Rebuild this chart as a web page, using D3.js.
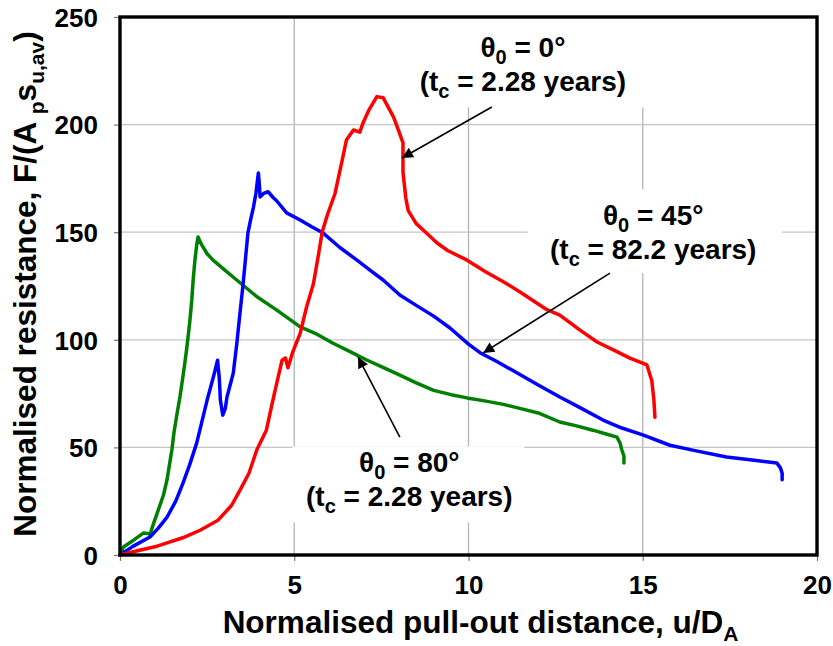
<!DOCTYPE html>
<html>
<head>
<meta charset="utf-8">
<script src="https://cdn.jsdelivr.net/npm/d3@7"></script>
<style>
  html, body { margin: 0; padding: 0; background: #fff; }
  svg text { font-family: "Liberation Sans", Arial, Helvetica, sans-serif; font-weight: bold; fill: #000; }
</style>
</head>
<body>
<svg id="chart" width="833" height="646"></svg>
<script>
// Pull-out resistance curves: [u/D_A, F/(A_p s_u,av)]
const curveTheta0 = [
  [0,0],[0.5,2],[1,3.8],[1.35,5.6],[1.8,8],[2.3,11.5],[2.8,16],[3.2,23],[3.44,30],[3.7,38],
  [3.93,49],[4.2,58],[4.36,70],[4.5,80],[4.65,90.5],[4.75,91.5],[4.82,87],[4.95,94],[5.17,103],
  [5.35,115],[5.55,126],[5.7,140],[5.8,150],[5.95,158],[6.17,168],[6.37,183],[6.5,193],[6.7,197.5],
  [6.88,196.5],[6.98,201],[7.15,207],[7.37,213],[7.55,212.5],[7.7,208],[7.85,203.5],[8.0,197],
  [8.12,191.5],[8.12,178],[8.2,166],[8.27,160],[8.5,154],[8.8,149.5],[9.1,145],[9.4,141.5],
  [9.96,137],[10.5,131.5],[11,127],[11.5,122],[12.25,114],[12.62,111.5],[13.2,104.5],[13.69,99],
  [14.2,95],[14.63,91.5],[15.12,88.3],[15.26,81],[15.32,72],[15.35,64]
];
const curveTheta45 = [
  [0,0],[0.37,4],[0.86,8.4],[1.1,12.5],[1.35,17.6],[1.6,25],[1.81,33.5],[2.0,42],[2.2,52],
  [2.35,62],[2.5,72],[2.6,78],[2.7,84],[2.8,90.5],[2.85,82],[2.88,72],[2.95,65],[3.02,68],
  [3.07,73.4],[3.25,84.5],[3.35,98],[3.44,112],[3.52,124],[3.58,134],[3.67,149.6],[3.75,156],
  [3.83,161.7],[3.9,168],[3.97,177.5],[4.0,172],[4.02,166.4],[4.12,168],[4.25,168.8],[4.4,166],
  [4.5,164.5],[4.78,159],[5.17,155.7],[5.5,152.5],[5.83,149.6],[6.3,143],[6.8,137],[7.2,132],
  [7.55,127.8],[8.03,120.8],[8.5,116],[9.0,111],[9.47,105.5],[10.0,98],[10.33,94],[10.8,90],
  [11.3,85.5],[12.0,79],[12.62,73.4],[13.2,68.5],[13.86,62.7],[14.4,59],[15,55.8],[15.78,51],
  [16.5,48.5],[17.4,45.5],[18.2,44],[18.85,42.7],[18.95,40.5],[19.0,38],[19.0,35]
];
const curveTheta80 = [
  [0,0],[0.1,3.7],[0.4,7],[0.67,10.2],[0.8,10],[0.86,9.5],[0.95,14],[1.1,21],[1.25,28],
  [1.35,35],[1.42,42],[1.49,49],[1.55,57],[1.64,66],[1.72,73.4],[1.78,80],[1.85,88],[1.92,96.7],
  [2.0,108],[2.06,118.5],[2.1,128],[2.15,137],[2.2,144],[2.24,147.8],[2.3,145.5],[2.35,144],
  [2.5,140],[2.67,137],[3.0,132.5],[3.35,127.8],[3.93,120],[4.5,113.8],[5.17,106],[5.6,103],
  [6.1,98.5],[6.6,94.5],[7.08,90.6],[7.5,87.5],[8.03,83.6],[8.5,80],[9.0,76.5],[9.5,74.5],
  [9.96,73],[10.5,71.5],[11,70],[11.5,68],[12,66],[12.62,61.8],[13.1,60],[13.57,58],[14.0,56],
  [14.26,54.8],[14.35,52],[14.4,48.8],[14.46,46],[14.46,42.7]
];

const xTicks = [0, 5, 10, 15, 20];
const yTicks = [0, 50, 100, 150, 200, 250];

// Annotation text: angle, consolidation time, label centre and arrow (data units)
const labelAngles = ["0°", "45°", "80°"];
const labelTimes = ["2.28", "82.2", "2.28"];
const labelCentres = [[11.56, 223.5], [15.3, 145.4], [8.3, 30.7]];
const arrowFrom = [[10.67, 208.2], [14.06, 131], [8.03, 54.8]];
const arrowTo = [[8.09, 184.5], [10.42, 93.9], [6.83, 92]];
const labelBoxes = [[8.5, 16.5, 208, 250], [11.7, 19.0, 131, 170], [4.95, 11.6, 15, 50.4]];

const svg = d3.select("#chart");
const margin = { left: 120, right: 16, top: 17, bottom: 91 };
const W = 833, H = 646;

const x = d3.scaleLinear().domain([0, 20]).range([margin.left, W - margin.right]);
const y = d3.scaleLinear().domain([0, 250]).range([H - margin.bottom, margin.top]);

// Gridlines
const grid = svg.append("g");
grid.selectAll("line.v").data(xTicks.slice(1, -1)).join("line")
  .attr("x1", d => x(d)).attr("x2", d => x(d))
  .attr("y1", y(0)).attr("y2", y(250))
  .attr("stroke", "#b4b4b4").attr("stroke-width", 1.3);
grid.selectAll("line.h").data(yTicks.slice(1, -1)).join("line")
  .attr("x1", x(0)).attr("x2", x(20))
  .attr("y1", d => y(d)).attr("y2", d => y(d))
  .attr("stroke", "#c4c4c4").attr("stroke-width", 1.3);

// White backing behind the annotation blocks
svg.append("g").selectAll("rect").data(labelBoxes).join("rect")
  .attr("x", d => x(d[0])).attr("width", d => x(d[1]) - x(d[0]))
  .attr("y", d => y(d[3])).attr("height", d => y(d[2]) - y(d[3]))
  .attr("fill", "#fff");

// Axes (outer ticks only, labels drawn by the axis generator)
const xAxis = svg.append("g").attr("transform", `translate(0,${y(0)})`)
  .call(d3.axisBottom(x).tickValues(xTicks).tickSize(6).tickPadding(8).tickFormat(d3.format("d")));
const yAxis = svg.append("g").attr("transform", `translate(${x(0)},0)`)
  .call(d3.axisLeft(y).tickValues(yTicks).tickSize(6).tickPadding(16).tickFormat(d3.format("d")));
[xAxis, yAxis].forEach(a => {
  a.select(".domain").remove();
  a.selectAll(".tick line").attr("stroke", "#777").attr("stroke-width", 1.2);
  a.selectAll(".tick text").attr("font-size", 26).attr("font-family", null).style("font-weight", "bold");
});
xAxis.selectAll(".tick text").attr("dy", "0.95em");
yAxis.selectAll(".tick text").attr("dy", "0.36em");

// Curves
const line = d3.line().x(d => x(d[0])).y(d => y(d[1]));
const curves = [
  { data: curveTheta80, color: "#008000" },
  { data: curveTheta45, color: "#0000ff" },
  { data: curveTheta0, color: "#ff0000" }
];
svg.append("g").selectAll("path").data(curves).join("path")
  .attr("d", d => line(d.data))
  .attr("fill", "none").attr("stroke", d => d.color)
  .attr("stroke-width", 3.5).attr("stroke-linejoin", "round").attr("stroke-linecap", "round");

// Plot frame
svg.append("rect")
  .attr("x", x(0)).attr("y", y(250))
  .attr("width", x(20) - x(0)).attr("height", y(0) - y(250))
  .attr("fill", "none").attr("stroke", "#000").attr("stroke-width", 3.4);

// Arrows
svg.append("defs").append("marker")
  .attr("id", "head").attr("viewBox", "0 0 10 10").attr("refX", 10).attr("refY", 5)
  .attr("markerWidth", 13).attr("markerHeight", 11).attr("markerUnits", "userSpaceOnUse")
  .attr("orient", "auto")
  .append("path").attr("d", "M0,0 L10,5 L0,10 Z").attr("fill", "#000");
svg.append("g").selectAll("line").data(arrowFrom).join("line")
  .attr("x1", d => x(d[0])).attr("y1", d => y(d[1]))
  .attr("x2", (d, i) => x(arrowTo[i][0])).attr("y2", (d, i) => y(arrowTo[i][1]))
  .attr("stroke", "#000").attr("stroke-width", 1.6).attr("marker-end", "url(#head)");

// Annotation labels
const ann = svg.append("g").selectAll("g").data(labelCentres).join("g")
  .attr("transform", d => `translate(${x(d[0])},${y(d[1])})`);
ann.each(function (d, i) {
  const g = d3.select(this);
  const t1 = g.append("text").attr("text-anchor", "middle").attr("font-size", 28).attr("y", -17);
  t1.append("tspan").text("θ");
  t1.append("tspan").text("0").attr("font-size", 20).attr("dy", 7);
  t1.append("tspan").text(" = " + labelAngles[i]).attr("dy", -7);
  const t2 = g.append("text").attr("text-anchor", "middle").attr("font-size", 28).attr("y", 17);
  t2.append("tspan").text("(t");
  t2.append("tspan").text("c").attr("font-size", 20).attr("dy", 7);
  t2.append("tspan").text(" = " + labelTimes[i] + " years)").attr("dy", -7);
});

// Axis titles
const xt = svg.append("text").attr("text-anchor", "middle")
  .attr("x", x(10) + 12).attr("y", 633).attr("font-size", 31.5);
xt.append("tspan").text("Normalised pull-out distance, u/D");
xt.append("tspan").text("A").attr("font-size", 21).attr("dy", 8);

const yt = svg.append("text").attr("text-anchor", "middle")
  .attr("transform", `translate(36,${(y(0) + y(250)) / 2 - 2}) rotate(-90)`).attr("font-size", 31.5);
yt.append("tspan").text("Normalised resistance, F/(A ");
yt.append("tspan").text("p").attr("font-size", 21).attr("dy", 8);
yt.append("tspan").text("s").attr("dy", -8);
yt.append("tspan").text("u,av").attr("font-size", 21).attr("dy", 8);
yt.append("tspan").text(")").attr("dy", -8);
</script>
</body>
</html>
